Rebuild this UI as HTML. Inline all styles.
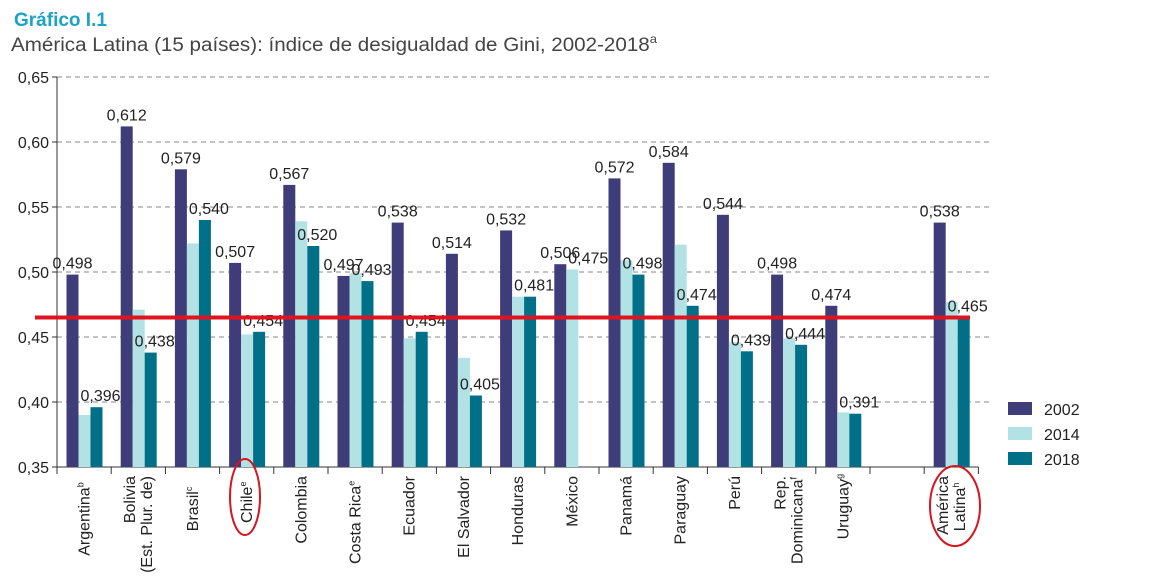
<!DOCTYPE html>
<html><head><meta charset="utf-8"><style>
body{margin:0;background:#fff;width:1153px;height:581px;overflow:hidden}
text{font-family:"Liberation Sans Narrow","Liberation Sans",sans-serif}
</style></head><body>
<svg id="chart" width="1153" height="581" xmlns="http://www.w3.org/2000/svg">
<text x="14" y="26" font-size="19" font-weight="bold" fill="#1ba3c6" style="font-family:'Liberation Sans',sans-serif">Gráfico I.1</text>
<text x="11" y="51" font-size="19" fill="#444" textLength="646" lengthAdjust="spacingAndGlyphs" style="font-family:'Liberation Sans',sans-serif">América Latina (15 países): índice de desigualdad de Gini, 2002-2018<tspan font-size="12" dy="-8">a</tspan></text>
<g id="grid"></g><g id="bars"></g><g id="labels"></g><g id="xlab"></g>
</svg>
<script>
const categories=["Argentina|b","Bolivia|(Est. Plur. de)","Brasil|c","Chile|e","Colombia","Costa Rica|e","Ecuador","El Salvador","Honduras","México","Panamá","Paraguay","Perú","Rep.|Dominicana|f","Uruguay|g","","América|Latina|h"];
const s2002=[0.498,0.612,0.579,0.507,0.567,0.497,0.538,0.514,0.532,0.506,0.572,0.584,0.544,0.498,0.474,null,0.538];
const s2014=[0.390,0.471,0.522,0.452,0.539,0.499,0.449,0.434,0.481,0.502,0.509,0.521,0.446,0.449,0.392,null,0.477];
const s2018=[0.396,0.438,0.540,0.454,0.520,0.493,0.454,0.405,0.481,null,0.498,0.474,0.439,0.444,0.391,null,0.465];
const printed2002=["0,498","0,612","0,579","0,507","0,567","0,497","0,538","0,514","0,532","0,506","0,572","0,584","0,544","0,498","0,474","","0,538"];
const printed2018=["0,396","0,438","0,540","0,454","0,520","0,493","0,454","0,405","0,481","0,475","0,498","0,474","0,439","0,444","0,391","","0,465"];
const yTicks=[0.35,0.40,0.45,0.50,0.55,0.60,0.65];
const refValue=0.465;
const seriesNames=["2002","2014","2018"];
const colors=["#3e3d7a","#b2e2e3","#007089"];
const NS="http://www.w3.org/2000/svg";
const y=v=>467-(v-0.35)*1300;
const x0=57,step=54.2;
const xc=i=>x0+step*i+27.5;
function mk(tag,attrs,parent,txt){const e=document.createElementNS(NS,tag);for(const k in attrs)e.setAttribute(k,attrs[k]);if(txt!==undefined)e.textContent=txt;document.getElementById(parent).appendChild(e);return e;}
yTicks.forEach(t=>{
 if(t>0.35){const g=mk('line',{x1:57,x2:990,y1:y(t),y2:y(t),stroke:'#888','stroke-dasharray':'5,4','stroke-width':1},'grid');
 
 }
 const tk=mk('line',{x1:52,x2:57,y1:y(t),y2:y(t),stroke:'#333'},'grid');
 
 
 const l=mk('text',{x:49,y:y(t)+6,'font-size':16,'text-anchor':'end',fill:'#222'},'grid',t.toFixed(2).replace('.',','));
 
 
});
const ax=mk('line',{x1:57,x2:57,y1:77,y2:467,stroke:'#333'},'grid');


const bx=mk('line',{x1:57,x2:x0+step*17,y1:467,y2:467,stroke:'#333'},'grid');


for(let i=0;i<=17;i++){const t=mk('line',{x1:x0+step*i,x2:x0+step*i,y1:467,y2:474,stroke:'#333'},'grid');
 
 }
const series=[s2002,s2014,s2018];
categories.forEach((c,i)=>{
 series.forEach((s,j)=>{
  if(s[i]==null)return;
  const b=mk('rect',{x:xc(i)-18+12*j,y:y(s[i]),width:12,height:467-y(s[i]),fill:colors[j]},'bars');
  
  
 });
 if(printed2002[i]){const t=mk('text',{x:xc(i)-12,y:y(s2002[i])-6,'font-size':16,'text-anchor':'middle',fill:'#222'},'labels',printed2002[i]);
  
  }
 if(printed2018[i]){const base=s2018[i]!=null?s2018[i]:s2014[i];const t=mk('text',{x:xc(i)+16,y:y(base)-6,'font-size':16,'text-anchor':'middle',fill:'#222'},'labels',printed2018[i]);
  
  }
 if(c){const lines=c.split('|');let sup='';if(lines.length>1&&lines[lines.length-1].length===1)sup=lines.pop();
  const n=lines.length;
  lines.forEach((ln,k)=>{const tx=xc(i)+5+(k-(n-1)/2)*17;
   const t=mk('text',{transform:`translate(${tx},476) rotate(-90)`,'font-size':16,'text-anchor':'end',fill:'#222'},'xlab');
   
   
   t.textContent=ln;
   if(k===n-1&&sup){const sp=document.createElementNS(NS,'tspan');sp.setAttribute('font-size','9');sp.setAttribute('dy','-6');sp.textContent=sup;
    t.textContent='';t.appendChild(document.createTextNode(ln));t.appendChild(sp);t.setAttribute('text-anchor','start');t.setAttribute('transform',`translate(${tx},${476+ln.length*8.2+6}) rotate(-90)`);}
  });}
});
const rl=mk('line',{x1:35,x2:970,y1:y(refValue),y2:y(refValue),stroke:'#e0141e','stroke-width':4},'labels');


[[245,497,15,38],[955,506,25,40]].forEach(e=>{const el=mk('ellipse',{cx:e[0],cy:e[1],rx:e[2],ry:e[3],fill:'none',stroke:'#d8141e','stroke-width':2},'labels');
 
 });
seriesNames.forEach((n,j)=>{const r=mk('rect',{x:1008,y:402+25*j,width:24,height:13,fill:colors[j]},'labels');
 
 
 const t=mk('text',{x:1044,y:415+25*j,'font-size':16,fill:'#222'},'labels',n);
 
 });
</script>
</body></html>
